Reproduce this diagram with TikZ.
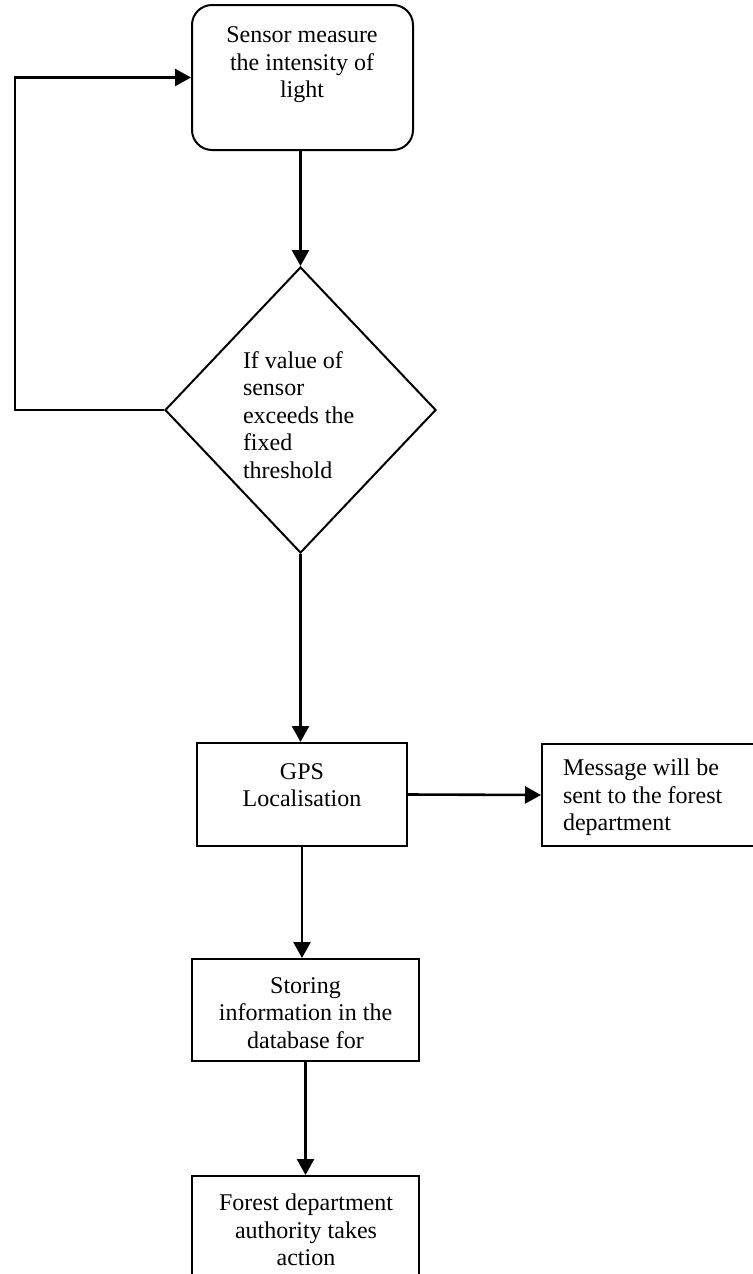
\documentclass[tikz,border=0pt]{standalone}
\usepackage{fontspec}
\setmainfont{Liberation Serif}
\usetikzlibrary{arrows.meta, shapes.geometric, positioning}
\tikzset{
  % thin box borders, slightly heavier connectors
  every picture/.append style = {line width=1pt, >={Triangle[length=8pt, width=8.5pt]}},
  flow/.style      = {->, line width=1.3pt},
  stepbox/.style   = {draw, line width=1pt, inner sep=0pt},
  roundbox/.style  = {stepbox, rounded corners=10pt},
  decide/.style    = {draw, diamond, line width=1pt, inner sep=0pt, aspect=0.95},
  txt/.style       = {font=\fontsize{12}{13.8}\selectfont, inner sep=0pt, align=center},
  ltxt/.style      = {txt, align=left, anchor=west},
}
\begin{document}
\begin{tikzpicture}[x=0.5pt, y=-0.5pt]
  \useasboundingbox (0,0) rectangle (752,1274);
  % shapes
  \node[roundbox, minimum width=110.5pt, minimum height=72.5pt] (sensor) at (302.5,77.5) {};
  \node[decide, minimum width=135.5pt, minimum height=143pt] (decision) at (300.5,410) {};
  \node[stepbox, minimum width=105pt, minimum height=51.5pt] (gps) at (302,794.5) {};
  \node[stepbox, minimum width=109.5pt, minimum height=51pt, anchor=west] (message) at (541,795) {};
  \node[stepbox, minimum width=113.5pt, minimum height=51pt] (store) at (305.5,1010) {};
  \node[stepbox, minimum width=113.5pt, minimum height=62pt] (forest) at (305.5,1238) {};
  % texts
  \node[txt] (sensortext) at (302,65) {Sensor measure\\the intensity of\\light};
  \node[ltxt] (decisiontext) at (242,415) {If value of\\sensor\\exceeds the\\fixed\\threshold};
  \node[txt] (gpstext) at (302,785) {GPS\\Localisation};
  \node[ltxt] (messagetext) at (562,797.5) {Message will be\\sent to the forest\\department};
  \node[txt] (storetext) at (305.5,1013) {Storing\\information in the\\database for};
  \node[txt] (foresttext) at (306,1230) {Forest department\\authority takes\\action};
  % connectors
  \coordinate (back) at (15,410);
  \draw[flow] (decision.north |- sensor.south) -- (decision.north);
  \draw[flow] (decision.west) -- (back) |- (sensor.west);
  \draw[flow] (decision.south) -- (decision.south |- gps.north);
  \draw[flow] (gps.east) -- (message.west);
  \draw[flow] (gps.south) -- (gps.south |- store.north);
  \draw[flow] (store.south) -- (forest.north);
\end{tikzpicture}
\end{document}
